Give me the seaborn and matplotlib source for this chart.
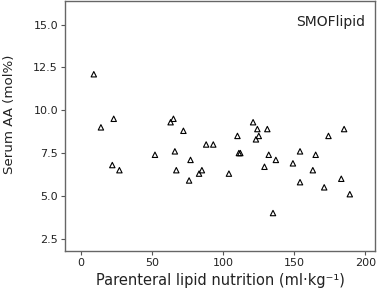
import matplotlib
matplotlib.use("Agg")
import matplotlib.pyplot as plt
import seaborn as sns
import pandas as pd

# parenteral lipid dose (ml/kg) and serum AA (mol%)
lipid = [9, 14, 23, 22, 27, 52, 63, 65, 66, 67, 72, 77, 76, 83, 85, 88, 93,
         104, 110, 111, 112, 121, 123, 124, 125, 129, 131, 132, 135, 137,
         149, 154, 154, 163, 165, 171, 174, 183, 185, 189]
serum_aa = [12.1, 9.0, 9.5, 6.8, 6.5, 7.4, 9.3, 9.5, 7.6, 6.5, 8.8, 7.1, 5.9,
            6.3, 6.5, 8.0, 8.0, 6.3, 8.5, 7.5, 7.5, 9.3, 8.3, 8.9, 8.5, 6.7,
            8.9, 7.4, 4.0, 7.1, 6.9, 7.6, 5.8, 6.5, 7.4, 5.5, 8.5, 6.0, 8.9, 5.1]
xticks = [0, 50, 100, 150, 200]
yticks = [2.5, 5.0, 7.5, 10.0, 12.5, 15.0]

df = pd.DataFrame({"lipid": lipid, "aa": serum_aa})

sns.set_style("white")
plt.rcParams["font.family"] = ["DejaVu Sans"]

fig = plt.figure(figsize=(3.82, 2.99), dpi=100)
ax = fig.add_axes([0.170, 0.162, 0.812, 0.835])

sns.scatterplot(data=df, x="lipid", y="aa", marker="^", s=15,
                facecolor="none", edgecolor="black", linewidth=0.8, ax=ax)

ax.set_xlim(-11.3, 206.8)
ax.set_ylim(1.81, 16.38)
ax.set_xticks(xticks)
ax.set_yticks(yticks)
ax.set_yticklabels([f"{v:.1f}" for v in yticks])
ax.tick_params(labelsize=8, length=3, width=0.8, color="#555555",
               labelcolor="#222222", pad=2, direction="out",
               bottom=True, left=True)
for sp in ax.spines.values():
    sp.set_color("#666666")
    sp.set_linewidth(1.0)

ax.set_xlabel("Parenteral lipid nutrition (ml·kg⁻¹)", fontsize=10.5, color="#222222", labelpad=4)
ax.set_ylabel("Serum AA (mol%)", fontsize=9.6, color="#222222")
ax.yaxis.set_label_coords(-0.158, 0.545)
ax.text(0.858, 0.916, "SMOFlipid", transform=ax.transAxes, ha="center",
        va="center", fontsize=10, color="#222222")

fig.savefig("out.png", dpi=100)
